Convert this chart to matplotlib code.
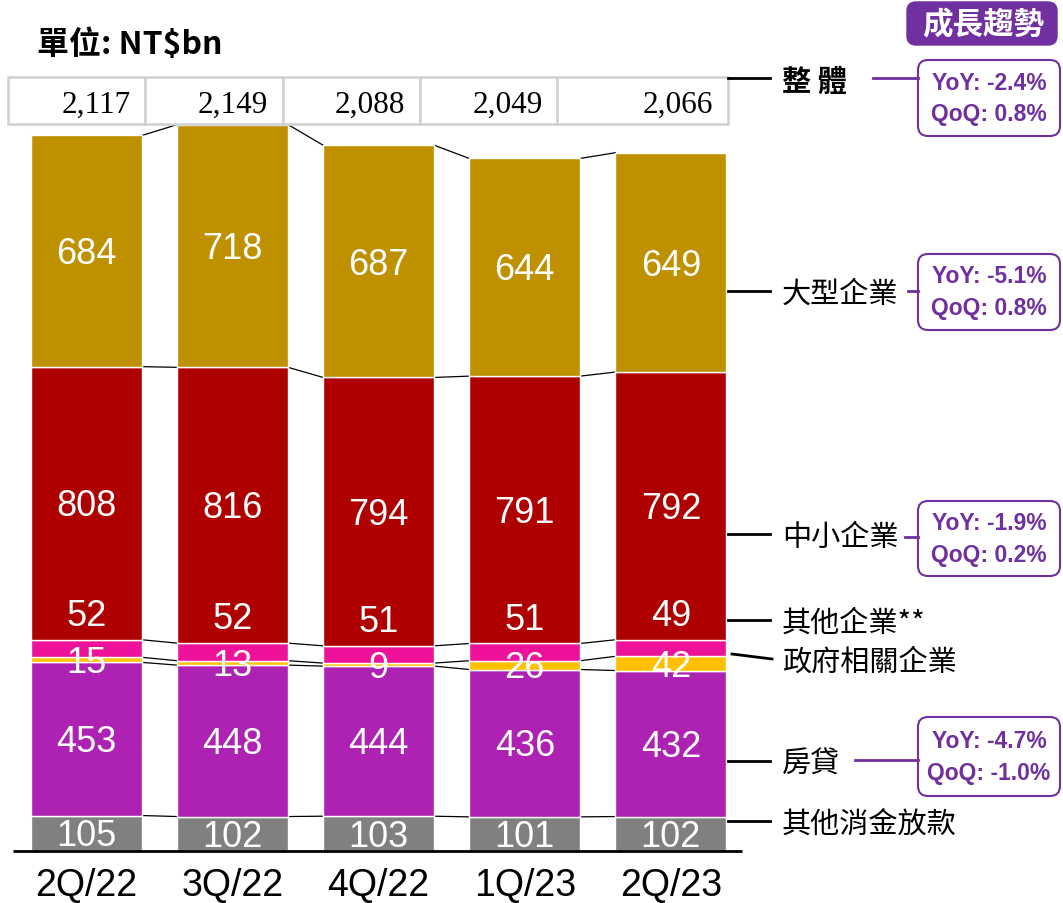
import matplotlib
matplotlib.use('Agg')
import matplotlib.pyplot as plt
from matplotlib.patches import FancyBboxPatch, Rectangle
from matplotlib import font_manager
import numpy as np

# 資料 (單位: NT$bn)
quarters = ['2Q/22', '3Q/22', '4Q/22', '1Q/23', '2Q/23']
other_consumer = [105, 102, 103, 101, 102]   # 其他消金放款
mortgage = [453, 448, 444, 436, 432]         # 房貸
gov_related = [15, 13, 9, 26, 42]            # 政府相關企業
other_corp = [52, 52, 51, 51, 49]            # 其他企業**
sme = [808, 816, 794, 791, 792]              # 中小企業
large_corp = [684, 718, 687, 644, 649]       # 大型企業

segment_names = ['其他消金放款', '房貸', '政府相關企業', '其他企業**', '中小企業', '大型企業']
colors = ['#808080', '#AE22B3', '#FFC000', '#EE1199', '#AF0000', '#BF9000']

growth_names = ['整體', '大型企業', '中小企業', '房貸']
yoy = [-2.4, -5.1, -1.9, -4.7]
qoq = [0.8, 0.8, 0.2, -1.0]

CJK = ['Noto Sans CJK TC', 'DejaVu Sans']
PURPLE = '#7030A0'

try:
    font_manager.findfont('Liberation Sans Narrow', fallback_to_default=False)
    box_font, box_size = 'Liberation Sans Narrow', 19
except ValueError:
    box_font, box_size = 'Liberation Sans', 16.5

fig = plt.figure(figsize=(10.63, 9.04), dpi=100)
ax = fig.add_axes([0, 0, 1, 1])
ax.set_xlim(-0.592, 6.684)
ax.set_ylim(-153.8, 2520.7)
ax.axis('off')

# 堆疊長條
series = [other_consumer, mortgage, gov_related, other_corp, sme, large_corp]
n = len(quarters)
x = np.arange(n)
w = 0.76
bottom = np.zeros(n)
levels = []
bottoms = []
for vals, c in zip(series, colors):
    ax.bar(x, vals, w, bottom=bottom, color=c, edgecolor='white', linewidth=1, zorder=2)
    bottoms.append(bottom.copy())
    bottom = bottom + np.array(vals)
    levels.append(bottom.copy())
totals = bottom

# 長條之間的連接線
for lev in levels:
    for i in range(n - 1):
        ax.plot([x[i] + w / 2, x[i + 1] - w / 2], [lev[i], lev[i + 1]], color='black', lw=0.9, zorder=1)

# 數值標籤
for k, vals in enumerate(series):
    for i in range(n):
        if k == 3:
            ypos = levels[k][i] + 72  # 其他企業 標在上方
        else:
            ypos = bottoms[k][i] + vals[i] / 2 - 8
        ax.text(x[i], ypos, str(vals[i]), ha='center', va='center', color='white',
                fontsize=26, family='Liberation Sans', zorder=4)

# 基準線與季度
ax.hlines(0, -0.5, x[-1] + 0.49, color='black', lw=2, zorder=3)
for i, q in enumerate(quarters):
    ax.text(x[i], -100, q, ha='center', va='center', fontsize=27, family='Liberation Sans')

# 合計表格
cell_left = x * 0.94 - 0.537
cell_right = list(cell_left[1:]) + [4.39]
for i in range(n):
    ax.add_patch(Rectangle((cell_left[i], 2151), cell_right[i] - cell_left[i], 139,
                           facecolor='white', edgecolor='#D0D0D0', lw=1.8, zorder=3))
    ax.text(cell_right[i] - 0.1, 2208, f'{int(totals[i]):,}', ha='right', va='center',
            fontsize=22.5, family='Liberation Serif', zorder=4)

# 標題與右側註記 (像素座標)
ax2 = fig.add_axes([0, 0, 1, 1])
ax2.set_xlim(0, 1063)
ax2.set_ylim(904, 0)
ax2.axis('off')
ax2.patch.set_alpha(0)

ax2.text(37, 45, '單位: NT$bn', fontsize=23, fontweight='bold', family=CJK, va='center')

right_labels = [('整 體', 82, 'bold'), ('大型企業', 295, 'normal'), ('中小企業', 538, 'normal'),
                ('其他企業**', 624, 'normal'), ('政府相關企業', 663, 'normal'),
                ('房貸', 765, 'normal'), ('其他消金放款', 825, 'normal')]
for name, yy, wt in right_labels:
    ax2.text(782, yy, name, fontsize=21, fontweight=wt, family=CJK, va='center')
    if name == '政府相關企業':
        ax2.plot([732, 772], [655, 660], color='black', lw=2)
    else:
        ax2.plot([728, 770], [yy - 3, yy - 3], color='black', lw=2)

# 成長趨勢
ax2.add_patch(FancyBboxPatch((907, 3), 150, 43, boxstyle='round,pad=0,rounding_size=9',
                             facecolor=PURPLE, edgecolor=PURPLE))
ax2.text(983, 25, '成長趨勢', fontsize=22, fontweight='bold', color='white', family=CJK,
         ha='center', va='center')

boxes = [(61, 137, 873, 79), (255, 331, 908, 292), (502, 577, 905, 538), (718, 797, 855, 761)]
for (top, bot, lx, ly), g, yv, qv in zip(boxes, growth_names, yoy, qoq):
    ax2.add_patch(FancyBboxPatch((918, top), 142, bot - top, boxstyle='round,pad=0,rounding_size=10',
                                 facecolor='white', edgecolor=PURPLE, lw=1.5))
    ax2.plot([lx, 918], [ly, ly], color=PURPLE, lw=2)
    cy = (top + bot) / 2
    ax2.text(989, cy - 16, f'YoY: {yv:.1f}%', fontsize=box_size, fontweight='bold', color=PURPLE,
             family=box_font, ha='center', va='center')
    ax2.text(989, cy + 16, f'QoQ: {qv:.1f}%', fontsize=box_size, fontweight='bold', color=PURPLE,
             family=box_font, ha='center', va='center')

fig.savefig('out.png', dpi=100)
